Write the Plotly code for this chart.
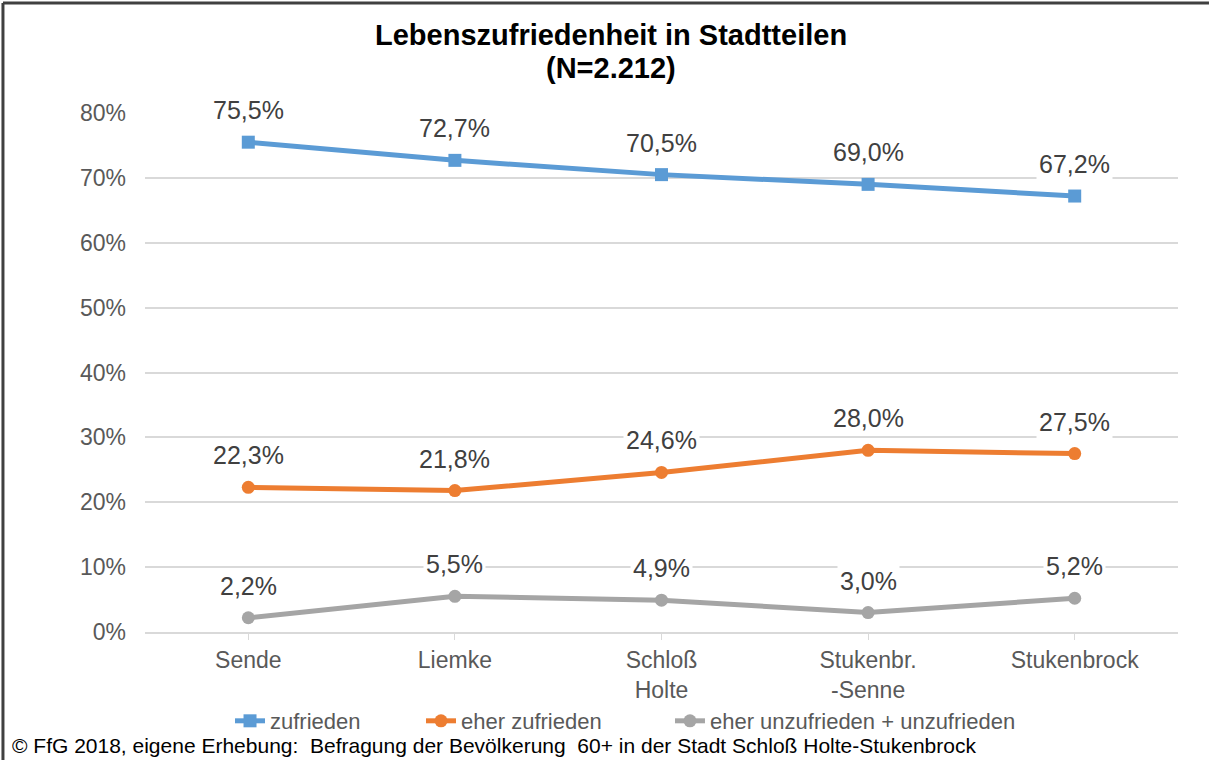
import plotly.graph_objects as go

categories = ["Sende", "Liemke", "Schloß<br>Holte", "Stukenbr.<br>-Senne", "Stukenbrock"]
zufrieden = [75.5, 72.7, 70.5, 69.0, 67.2]
eher_zufrieden = [22.3, 21.8, 24.6, 28.0, 27.5]
unzufrieden = [2.2, 5.5, 4.9, 3.0, 5.2]
series_names = ["zufrieden", "eher zufrieden", "eher unzufrieden + unzufrieden"]
y_ticks = [0, 10, 20, 30, 40, 50, 60, 70, 80]
y_tick_labels = [f"{v}%" for v in y_ticks]

colors = ["#5B9BD5", "#ED7D31", "#A5A5A5"]
symbols = ["square", "circle", "circle"]
legend_ids = ["legend", "legend2", "legend3"]
legend_x = [0.0823, 0.2672, 0.5082]
font = "Liberation Sans, Arial, sans-serif"

fig = go.Figure()
for name, vals, col, sym, lg in zip(series_names, [zufrieden, eher_zufrieden, unzufrieden],
                                    colors, symbols, legend_ids):
    fig.add_trace(go.Scatter(
        x=categories, y=vals, name=name, mode="lines+markers",
        line=dict(color=col, width=5),
        marker=dict(color=col, size=13, symbol=sym),
        legend=lg,
    ))
    for c, v in zip(categories, vals):
        fig.add_annotation(
            x=c, y=v, text=f"{v:.1f}%".replace(".", ","), showarrow=False,
            yshift=32, bgcolor="white", borderpad=2,
            font=dict(family=font, size=25, color="#404040"),
        )

legend_common = dict(
    orientation="h", xanchor="left", y=-0.1715, yanchor="middle",
    font=dict(family=font, size=22, color="#595959"), bgcolor="rgba(0,0,0,0)",
)

fig.update_layout(
    width=1211, height=760,
    paper_bgcolor="white", plot_bgcolor="white",
    margin=dict(l=145, r=33, t=113, b=128),
    showlegend=True,
    legend=dict(x=legend_x[0], **legend_common),
    legend2=dict(x=legend_x[1], **legend_common),
    legend3=dict(x=legend_x[2], **legend_common),
    xaxis=dict(
        type="category", range=[-0.5, 4.5], showgrid=False,
        showline=True, linecolor="#D9D9D9", linewidth=2,
        ticks="outside", ticklen=6, tickcolor="#D9D9D9",
        tickfont=dict(family=font, size=23, color="#595959"),
    ),
    yaxis=dict(
        range=[0, 80], tickvals=y_ticks, ticktext=y_tick_labels,
        showgrid=True, gridcolor="#D9D9D9", gridwidth=1.5,
        zeroline=False, showline=False, ticks="",
        ticklabelstandoff=18,
        tickfont=dict(family=font, size=23, color="#595959"),
    ),
)

# title lines
fig.add_annotation(
    xref="paper", yref="paper", x=0.451, y=1.150, xanchor="center", yanchor="middle",
    text="<b>Lebenszufriedenheit in Stadtteilen</b>", showarrow=False,
    font=dict(family=font, size=29, color="#000000"),
)
fig.add_annotation(
    xref="paper", yref="paper", x=0.451, y=1.0867, xanchor="center", yanchor="middle",
    text="<b>(N=2.212)</b>", showarrow=False,
    font=dict(family=font, size=29, color="#000000"),
)

fig.add_annotation(
    xref="paper", yref="paper", x=-0.131, y=-0.219, xanchor="left", yanchor="middle",
    text="© FfG 2018, eigene Erhebung:  Befragung der Bevölkerung  60+ in der Stadt Schloß Holte-Stukenbrock",
    showarrow=False, font=dict(family=font, size=21, color="#000000"),
)

# outer frame lines
fig.add_shape(type="line", xref="paper", yref="paper", x0=-0.1375, x1=-0.1375, y0=-0.25, y1=1.212,
              line=dict(color="#404040", width=3))
fig.add_shape(type="line", xref="paper", yref="paper", x0=-0.1375, x1=1.03, y0=1.212, y1=1.212,
              line=dict(color="#404040", width=3))

fig.write_html("out.html", config={"displayModeBar": False},
               post_script="document.body.style.margin='0';")
